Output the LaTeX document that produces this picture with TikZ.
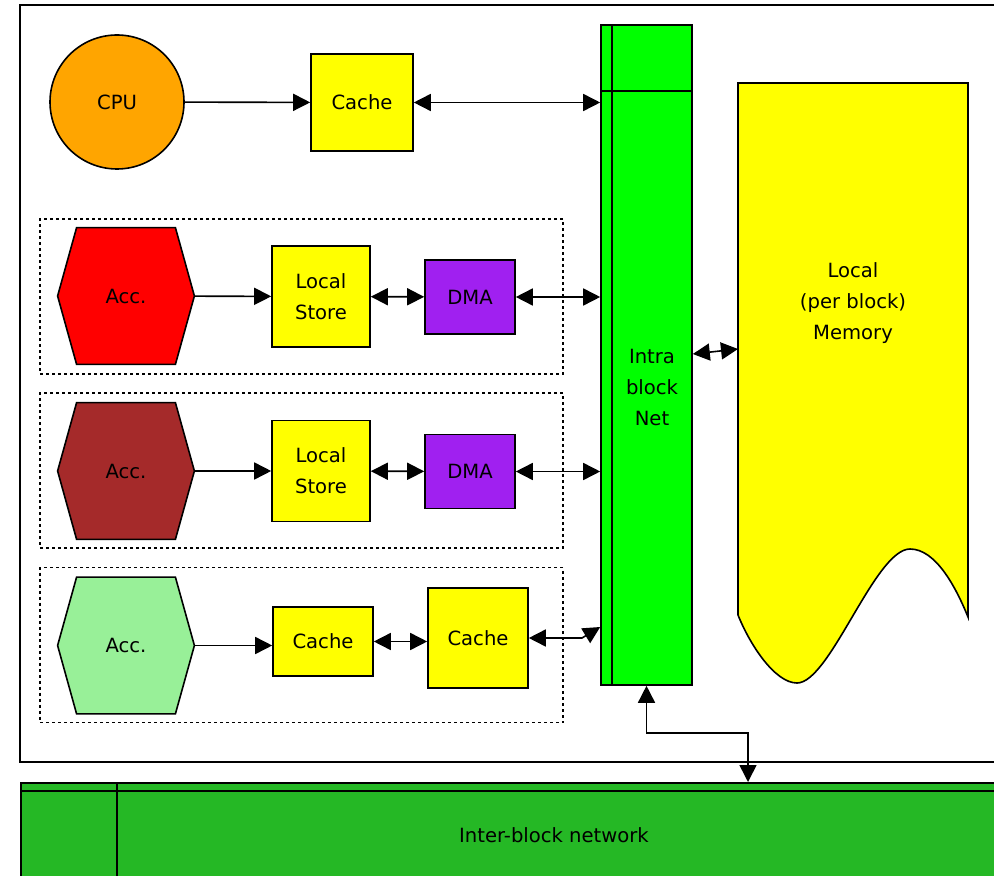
\documentclass[tikz,border=0pt]{standalone}
\usepackage{fontspec}
\setmainfont{DejaVu Sans}
\usetikzlibrary{arrows.meta,backgrounds,positioning}

\definecolor{cpuorange}{HTML}{FFA500}
\definecolor{boxyellow}{HTML}{FFFF00}
\definecolor{netgreen}{HTML}{00FF00}
\definecolor{dmapurple}{HTML}{A020F0}
\definecolor{accred}{HTML}{FF0000}
\definecolor{accbrown}{HTML}{A52A2A}
\definecolor{accgreen}{HTML}{98F098}
\definecolor{ibngreen}{HTML}{25B825}

\begin{document}
\begin{tikzpicture}[
  x=0.5pt,
  y=-0.5pt,
  every node/.style={font=\fontsize{9.8}{15.5}\selectfont},
  unit/.style={draw, line width=0.8pt, inner sep=0pt, align=center},
  cachebox/.style={unit, fill=boxyellow},
  dmabox/.style={unit, fill=dmapurple},
  accbox/.style={inner sep=0pt, minimum width=68pt, minimum height=68pt},
  group/.style={draw, line width=0.7pt, dash pattern=on 1.5pt off 1.5pt,
    minimum width=261.5pt, minimum height=77.5pt},
  arrow/.style={-{Triangle[length=8.5pt,width=8.5pt]}, line width=0.8pt},
  dblarrow/.style={{Triangle[length=8.5pt,width=8.5pt]}-{Triangle[length=8.5pt,width=8.5pt]}, line width=0.8pt}
]
\useasboundingbox (0,0) rectangle (994,876);
\clip (0,0) rectangle (994,876);

% outer block frame
\draw[line width=0.9pt] (20,5) rectangle (1020,762);

% CPU row
\node[unit, circle, fill=cpuorange, minimum size=67pt] (cpu) at (117,102) {CPU};
\node[cachebox, minimum width=51pt, minimum height=48.5pt] (cache) at (362,102.5) {Cache};

% intra block net
\node[unit, fill=netgreen, minimum width=45.5pt, minimum height=330pt] (net) at (646.5,355) {};
\draw[line width=0.8pt] (612,25) -- (612,685);
\draw[line width=0.8pt] (601,91) -- (692,91);
\node[align=center] (netlbl) at (652,387) {Intra\\block\\Net};

% local memory
\node[align=center] (mem) at (853,303) {Local\\(per block)\\Memory};
\coordinate (memin) at (738,349);

% accelerator groups
\node[group] (grp1) at (301.5,296.5) {};
\node[accbox] (acc1) at (126,296) {Acc.};
\node[cachebox, minimum width=49pt, minimum height=50.5pt] (ls1) at (321,296.5) {Local\\Store};
\node[dmabox, minimum width=45pt, minimum height=37pt] (dma1) at (470,297) {DMA};

\node[group] (grp2) at (301.5,470.5) {};
\node[accbox] (acc2) at (126,471) {Acc.};
\node[cachebox, minimum width=49pt, minimum height=50.5pt] (ls2) at (321,471) {Local\\Store};
\node[dmabox, minimum width=45pt, minimum height=37pt] (dma2) at (470,471.5) {DMA};

\node[group] (grp3) at (301.5,645) {};
\node[accbox] (acc3) at (126,645.5) {Acc.};
\node[cachebox, minimum width=50pt, minimum height=34.5pt] (cachea) at (323,641.5) {Cache};
\node[cachebox, minimum width=50pt, minimum height=50pt] (cacheb) at (478,638) {Cache};
\coordinate (bend3) at (582,638);

% inter-block network
\node[unit, fill=ibngreen, minimum width=500pt, minimum height=60pt, anchor=north west] (ibn) at (20,782) {};
\draw[line width=0.8pt] (20,791) -- (1020,791);
\draw[line width=0.8pt] (117,782) -- (117,902);
\node (ibnlbl) at (554,835) {Inter-block network};
\coordinate (ibnin) at (748,782);

\begin{scope}[on background layer]
  \foreach \n/\c in {acc1/accred, acc2/accbrown, acc3/accgreen}
    \draw[fill=\c, line width=0.8pt] (\n.west) -- ([xshift=9.5pt]\n.north west)
      -- ([xshift=-9.5pt]\n.north east) -- (\n.east)
      -- ([xshift=-9.5pt]\n.south east) -- ([xshift=9.5pt]\n.south west) -- cycle;
  \draw[fill=boxyellow, line width=0.8pt] (738,83) -- (968,83) -- (968,617)
    .. controls (955,585) and (935,549) .. (910,549)
    .. controls (875,549) and (830,683) .. (797,683)
    .. controls (775,683) and (750,645) .. (738,615) -- cycle;
\end{scope}

\draw[arrow] (cpu) -- (cache);
\draw[dblarrow] (cache.east) -- (cache.east -| net.west);
\draw[arrow] (acc1) -- (ls1);
\draw[dblarrow] (ls1) -- (dma1);
\draw[dblarrow] (dma1.east) -- (dma1.east -| net.west);
\draw[arrow] (acc2) -- (ls2);
\draw[dblarrow] (ls2) -- (dma2);
\draw[dblarrow] (dma2.east) -- (dma2.east -| net.west);
\draw[arrow] (acc3.east) -- (acc3.east -| cachea.west);
\draw[dblarrow] (cachea.east) -- (cachea.east -| cacheb.west);
\draw[dblarrow] (cacheb.east) -- (bend3) -- (net.west |- 0,627);
\draw[dblarrow] (net.east |- 0,354) -- (memin);
\draw[dblarrow] (net.south) |- (748,733) -- (ibnin);
\end{tikzpicture}
\end{document}
